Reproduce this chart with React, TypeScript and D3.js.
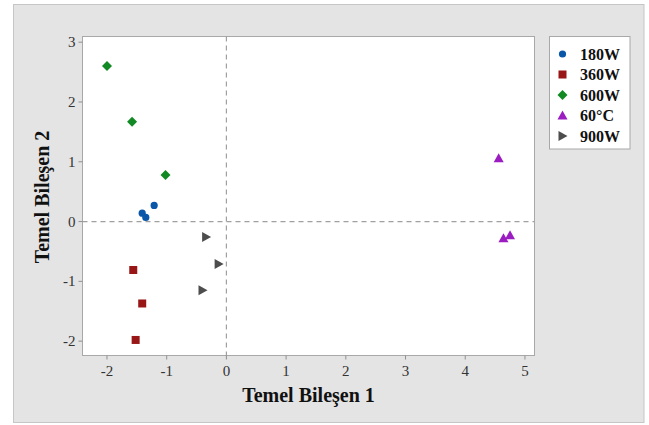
import React from "react";
import * as d3 from "d3";

const series = ["180W", "360W", "600W", "60°C", "900W"];
const colors = ["#0a56a8", "#981616", "#118a24", "#9b1dc2", "#4d4d4d"];
const shapes = ["circle", "square", "diamond", "triangle", "triRight"];

const pc1_180W = [-1.21, -1.41, -1.35];
const pc2_180W = [0.27, 0.14, 0.07];
const pc1_360W = [-1.56, -1.41, -1.52];
const pc2_360W = [-0.81, -1.37, -1.98];
const pc1_600W = [-2.0, -1.58, -1.02];
const pc2_600W = [2.6, 1.67, 0.78];
const pc1_60C = [4.56, 4.64, 4.75];
const pc2_60C = [1.06, -0.28, -0.23];
const pc1_900W = [-0.34, -0.13, -0.4];
const pc2_900W = [-0.26, -0.71, -1.15];

const xs = [pc1_180W, pc1_360W, pc1_600W, pc1_60C, pc1_900W];
const ys = [pc2_180W, pc2_360W, pc2_600W, pc2_60C, pc2_900W];

const xTicks = [-2, -1, 0, 1, 2, 3, 4, 5];
const yTicks = [-2, -1, 0, 1, 2, 3];

const W = 649, H = 425;
const L = 82.5, R = 534.5, T = 36.5, B = 355.5;

const x = d3.scaleLinear().domain([-2.41, 5.16]).range([L, R]);
const y = d3.scaleLinear().domain([-2.24, 3.095]).range([B, T]);

function marker(shape: string, cx: number, cy: number, color: string, key: string) {
  if (shape === "circle") return <circle key={key} cx={cx} cy={cy} r={3.6} fill={color} />;
  if (shape === "square") return <rect key={key} x={cx - 4} y={cy - 4} width={8} height={8} fill={color} />;
  if (shape === "diamond")
    return <path key={key} d={`M${cx},${cy - 5}L${cx + 5},${cy}L${cx},${cy + 5}L${cx - 5},${cy}Z`} fill={color} />;
  if (shape === "triangle")
    return <path key={key} d={`M${cx},${cy - 5}L${cx + 5},${cy + 4}L${cx - 5},${cy + 4}Z`} fill={color} />;
  return <path key={key} d={`M${cx - 4},${cy - 5}L${cx + 5},${cy}L${cx - 4},${cy + 5}Z`} fill={color} />;
}

export default function App() {
  const font = "'Liberation Serif', 'Times New Roman', serif";
  return (
    <svg width={W} height={H} style={{ position: "absolute", left: 0, top: 0 }} fontFamily={font}>
      <rect x={0} y={0} width={W} height={H} fill="#ffffff" />
      <rect x={13.5} y={4.5} width={630.5} height={418} fill="#e4e4e4" stroke="#c6c6c6" strokeWidth={1} />
      <rect x={L} y={T} width={R - L} height={B - T} fill="#ffffff" stroke="#a8a8a8" strokeWidth={1} />
      {/* reference lines */}
      <line x1={x(0)} x2={x(0)} y1={T} y2={B} stroke="#a0a0a0" strokeDasharray="5,4" strokeWidth={1.2} />
      <line x1={L} x2={R} y1={y(0)} y2={y(0)} stroke="#a0a0a0" strokeDasharray="5,4" strokeWidth={1.2} />
      {/* x axis */}
      {xTicks.map((t) => (
        <g key={"x" + t}>
          <line x1={x(t)} x2={x(t)} y1={B} y2={B + 4} stroke="#909090" />
          <text x={x(t)} y={B + 20} textAnchor="middle" fontSize={15} fill="#333">
            {t < 0 ? "-" + Math.abs(t) : t}
          </text>
        </g>
      ))}
      {/* y axis */}
      {yTicks.map((t) => (
        <g key={"y" + t}>
          <line x1={L - 4} x2={L} y1={y(t)} y2={y(t)} stroke="#909090" />
          <text x={L - 7} y={y(t) + 5} textAnchor="end" fontSize={15} fill="#333">
            {t < 0 ? "-" + Math.abs(t) : t}
          </text>
        </g>
      ))}
      <text x={(L + R) / 2 + 0} y={402} textAnchor="middle" fontSize={20} fontWeight="bold" fill="#111">
        Temel Bileşen 1
      </text>
      <text
        transform={`translate(49,${197}) rotate(-90)`}
        textAnchor="middle"
        fontSize={20}
        fontWeight="bold"
        fill="#111"
      >
        Temel Bileşen 2
      </text>
      {/* points */}
      {series.map((s, i) =>
        xs[i].map((v, j) => marker(shapes[i], x(v), y(ys[i][j]), colors[i], s + j))
      )}
      {/* legend */}
      <rect x={549.5} y={36.5} width={80.5} height={112.5} fill="#ffffff" stroke="#a8a8a8" />
      {series.map((s, i) => (
        <g key={"lg" + s}>
          {marker(shapes[i], 562.5, 54 + i * 20.5, colors[i], "lm" + i)}
          <text x={580} y={54 + i * 20.5 + 5.5} fontSize={16} fontWeight="bold" fill="#111">
            {s}
          </text>
        </g>
      ))}
    </svg>
  );
}
